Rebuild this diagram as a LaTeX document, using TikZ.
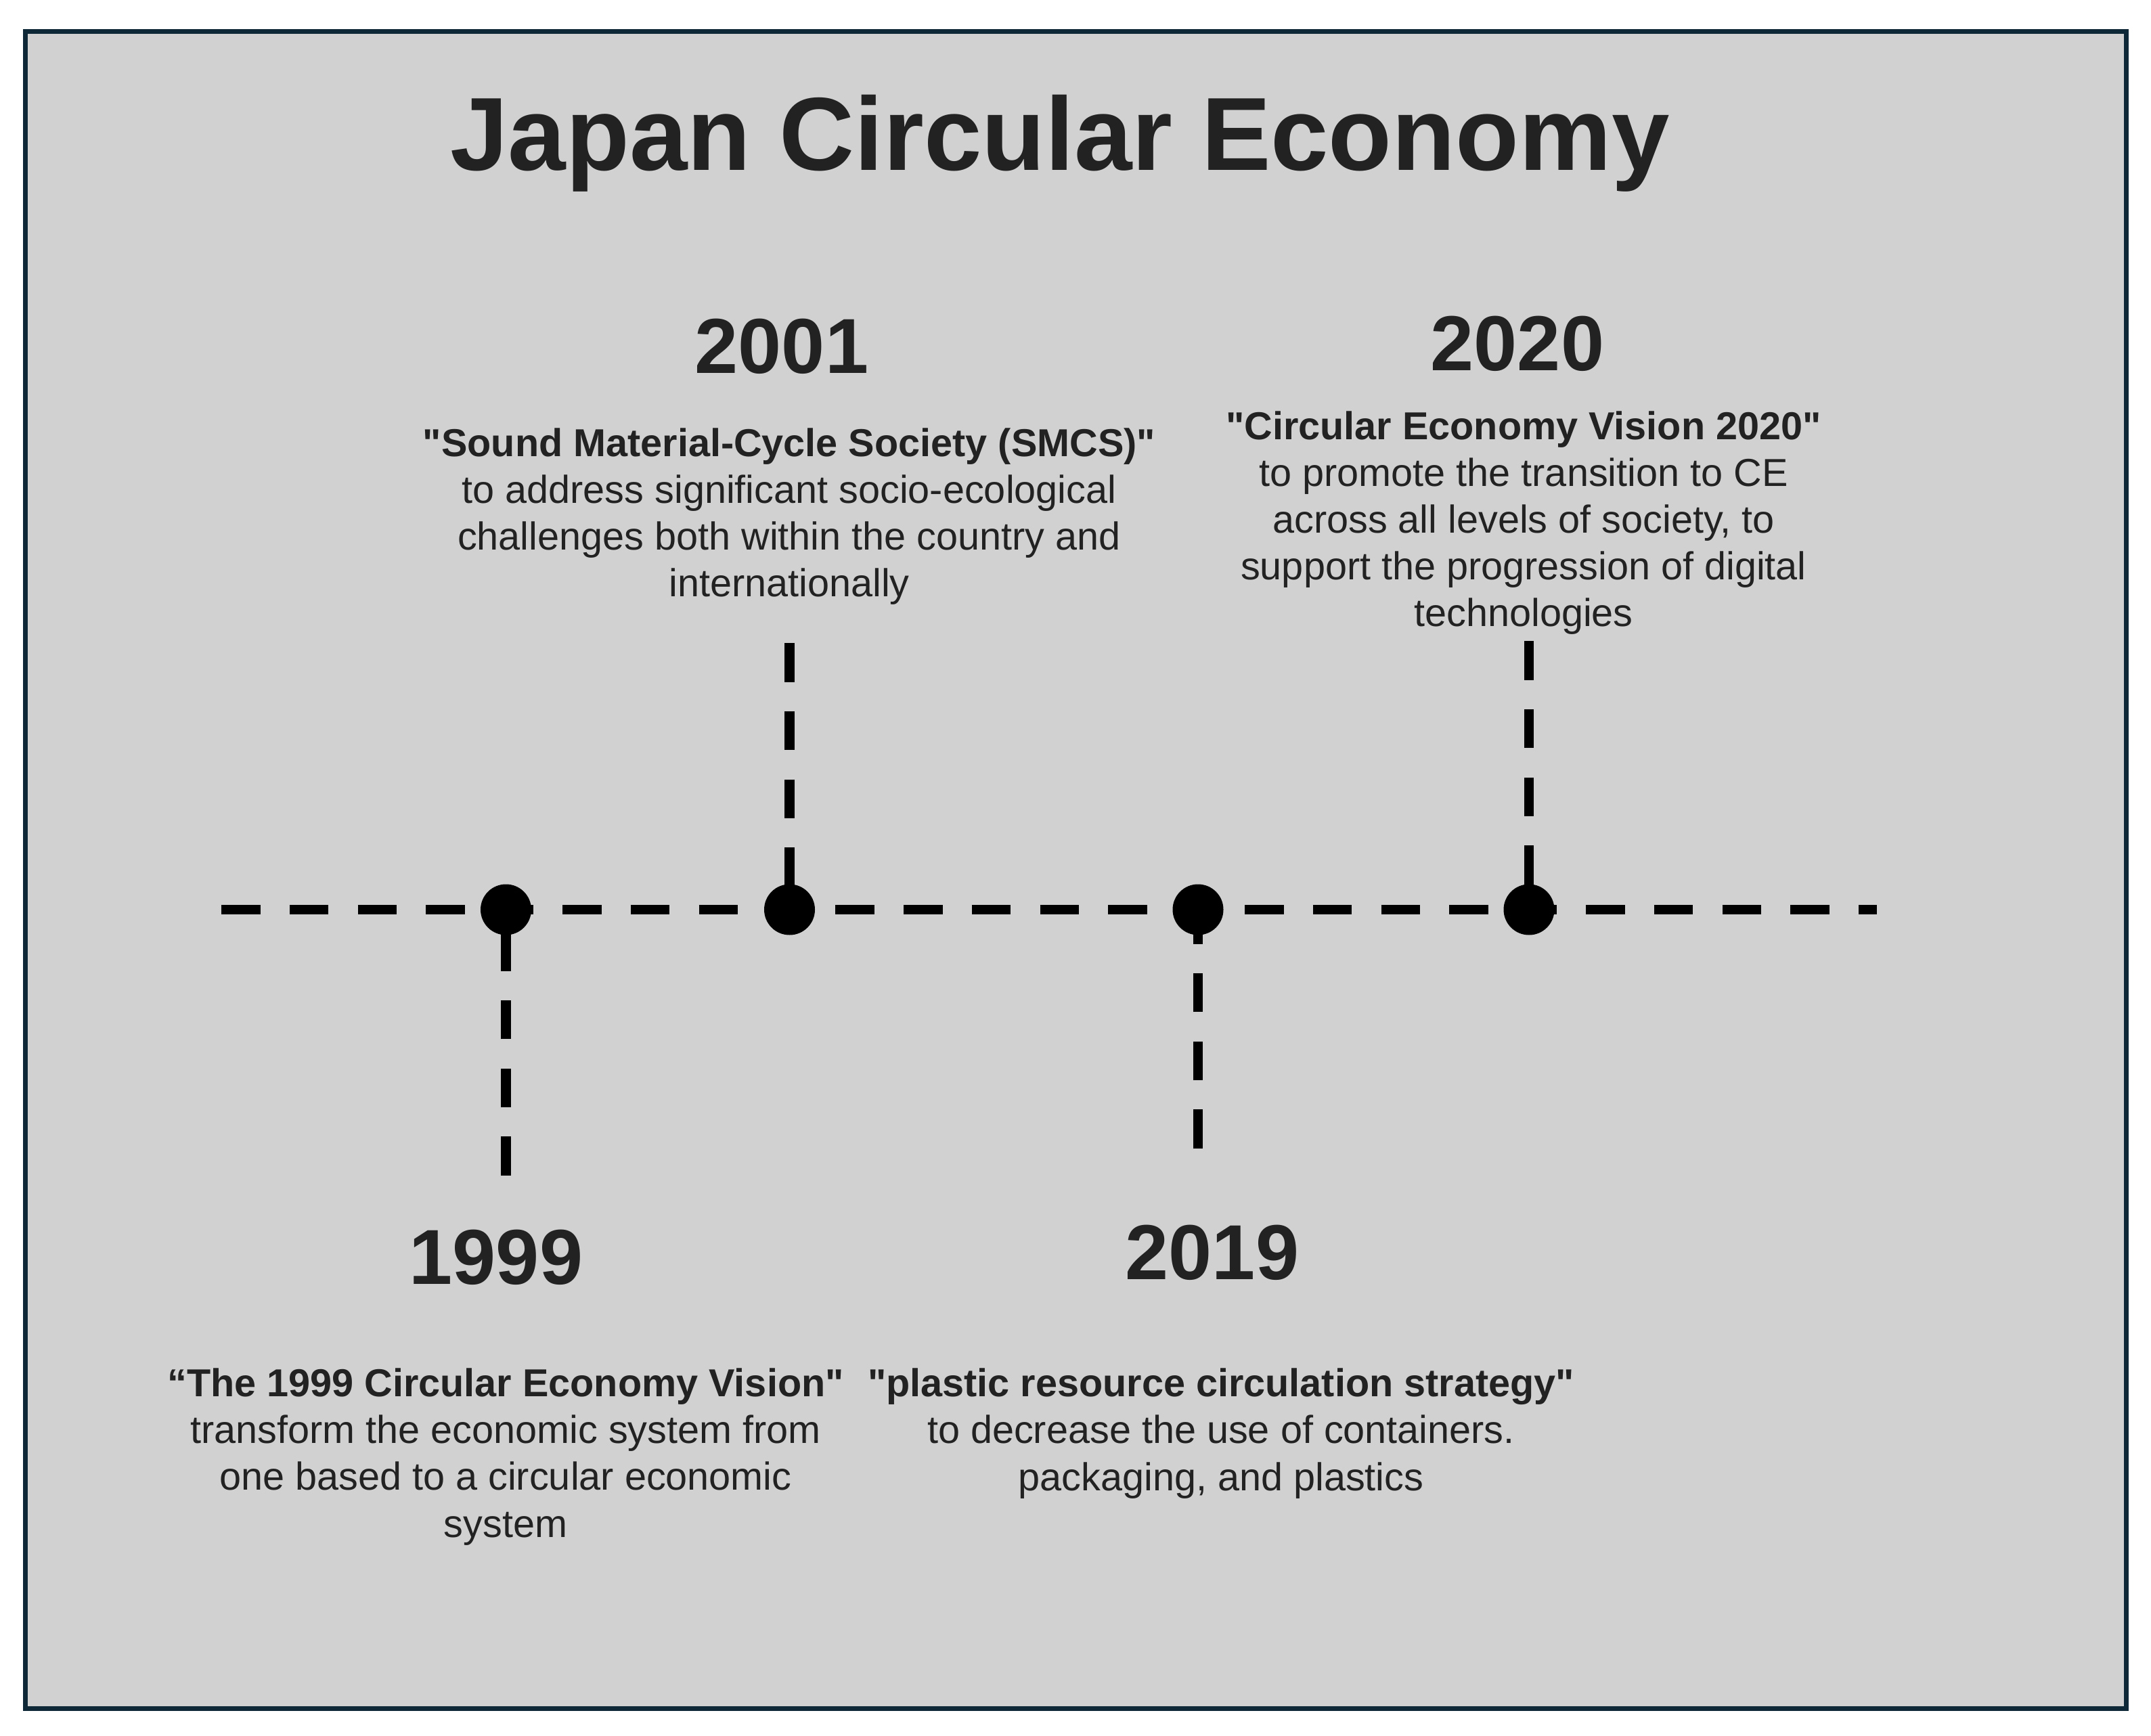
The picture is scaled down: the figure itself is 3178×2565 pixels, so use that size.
\documentclass[tikz,border=0pt]{standalone}
\usepackage{fontspec}
\setmainfont{Liberation Sans}
\usepackage{tikz}

\definecolor{framebg}{RGB}{209,209,209}
\definecolor{frameline}{RGB}{14,40,56}
\definecolor{textdark}{RGB}{34,34,34}

\begin{document}
\begin{tikzpicture}[x=0.25pt, y=-0.25pt,
    dot/.style={circle, fill=black, inner sep=0pt, minimum size=18.75pt},
    tline/.style={line width=3.6pt, dash pattern=on 14.4pt off 10.8pt},
    year/.style={anchor=base, text=textdark, font=\fontsize{28.8}{34}\selectfont\bfseries},
    info/.style={anchor=base, align=center, text=textdark, font=\fontsize{14.4}{17.28}\selectfont}]
    \useasboundingbox (0,0) rectangle (3178,2565);
    \draw[line width=1.75pt, draw=frameline, fill=framebg] (37.5,46.5) rectangle (3141,2524.5);
    \node[anchor=base, text=textdark, font=\fontsize{38.4}{46}\selectfont\bfseries] (title) at (1566,252) {Japan Circular Economy};

    \node[dot] (d1999) at (747.5,1344) {};
    \node[dot] (d2001) at (1166.5,1344) {};
    \node[dot] (d2019) at (1770,1344) {};
    \node[dot] (d2020) at (2259,1344) {};

    \coordinate (tl-l) at (327,1344);
    \coordinate (tl-r) at (2773,1344);
    \coordinate (s1999) at (747.5,1737);
    \coordinate (s2001) at (1166.5,950);
    \coordinate (s2019) at (1770,1697);
    \coordinate (s2020) at (2259,947);

    \draw[tline] (tl-l) -- (tl-r);
    \draw[tline] (s1999) -- (d1999.center);
    \draw[tline] (s2001) -- (d2001.center);
    \draw[tline] (s2019) -- (d2019.center);
    \draw[tline] (s2020) -- (d2020.center);

    \node[year] (y1999) at (733,1897) {1999};
    \node[year] (y2001) at (1155,552) {2001};
    \node[year] (y2019) at (1791,1890) {2019};
    \node[year] (y2020) at (2242,548) {2020};

    % base = last line of each block
    \node[info] (t1999) at (747,2271) {{\bfseries “The 1999 Circular Economy Vision\textquotedbl}\\transform the economic system from\\one based to a circular economic\\system};
    \node[info] (t2001) at (1166,882) {{\bfseries \textquotedbl Sound Material-Cycle Society (SMCS)\textquotedbl}\\to address significant socio-ecological\\challenges both within the country and\\internationally};
    \node[info] (t2019) at (1804,2202) {{\bfseries \textquotedbl plastic resource circulation strategy\textquotedbl}\\to decrease the use of containers.\\packaging, and plastics};
    \node[info] (t2020) at (2251,926) {{\bfseries \textquotedbl Circular Economy Vision 2020\textquotedbl}\\to promote the transition to CE\\across all levels of society, to\\support the progression of digital\\technologies};
\end{tikzpicture}
\end{document}
